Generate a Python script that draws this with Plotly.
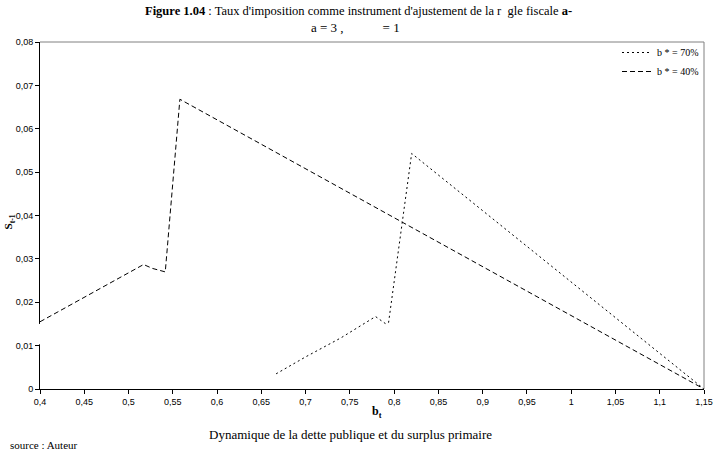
import plotly.graph_objects as go

# Series b* = 70% (dotted)
x70 = [0.6667, 0.70, 0.74, 0.779, 0.790, 0.7937, 0.8198, 1.15]
y70 = [0.0035, 0.0074, 0.0118, 0.0167, 0.0151, 0.0153, 0.0543, 0.0]

# Series b* = 40% (dashed)
x40 = [0.40, 0.517, 0.527, 0.5415, 0.558, 1.15]
y40 = [0.0155, 0.0287, 0.0278, 0.0270, 0.0668, 0.0]

xticks = [0.4, 0.45, 0.5, 0.55, 0.6, 0.65, 0.7, 0.75, 0.8, 0.85, 0.9, 0.95, 1.0, 1.05, 1.1, 1.15]
xticklabels = ["0,4", "0,45", "0,5", "0,55", "0,6", "0,65", "0,7", "0,75", "0,8", "0,85",
               "0,9", "0,95", "1", "1,05", "1,1", "1,15"]
yticks = [0, 0.01, 0.02, 0.03, 0.04, 0.05, 0.06, 0.07, 0.08]
yticklabels = ["0", "0,01", "0,02", "0,03", "0,04", "0,05", "0,06", "0,07", "0,08"]

serif = "Liberation Serif, Times New Roman, serif"
sans = "Liberation Sans, Arial, sans-serif"

fig = go.Figure()
fig.add_trace(go.Scatter(x=x70, y=y70, mode="lines", name="b * = 70%",
                         line=dict(color="black", width=1, dash="2px,3px")))
fig.add_trace(go.Scatter(x=x40, y=y40, mode="lines", name="b * = 40%",
                         line=dict(color="black", width=1, dash="5px,3px")))

W, H = 723, 452
L, R, T, B = 40, 10, 42, 63
fig.update_layout(
    width=W, height=H,
    margin=dict(l=L, r=R, t=T, b=B),
    paper_bgcolor="white", plot_bgcolor="white",
    showlegend=True,
    legend=dict(x=1, y=1 + 4 / (H - T - B), xanchor="right", yanchor="top",
                font=dict(family=serif, size=10, color="black"),
                bgcolor="rgba(0,0,0,0)", itemwidth=30, tracegroupgap=0),
    xaxis=dict(range=[0.4, 1.15], tickvals=xticks, ticktext=xticklabels,
               showgrid=False, zeroline=False, showline=True, linecolor="black", linewidth=1,
               ticks="outside", ticklen=4, tickcolor="black",
               tickfont=dict(family=sans, size=9, color="black")),
    yaxis=dict(range=[0, 0.08], tickvals=yticks, ticktext=yticklabels,
               showgrid=False, zeroline=False, showline=True, linecolor="black", linewidth=1,
               ticks="outside", ticklen=4, tickcolor="black",
               tickfont=dict(family=sans, size=9, color="black")),
)

# grey frame top and right
fig.add_shape(type="line", xref="paper", yref="paper", x0=0, x1=1, y0=1, y1=1,
              line=dict(color="#808080", width=1))
fig.add_shape(type="line", xref="paper", yref="paper", x0=1, x1=1, y0=0, y1=1,
              line=dict(color="#808080", width=1))
# gap in left axis line
fig.add_shape(type="line", xref="paper", yref="y", x0=0, x1=0, y0=0.0103, y1=0.0150,
              line=dict(color="white", width=3), layer="above")

pw, ph = W - L - R, H - T - B
def px(xp):
    return (xp - L) / pw
def py(yp):
    return (H - B - yp) / ph

nb = "&nbsp;"
texts = [
    ("<b>Figure 1.04</b> : Taux d'imposition comme instrument d'ajustement de la r" + nb * 2
     + "gle fiscale <b>a-</b>", 363, 11, "center", 12.5, 0),
    ("a = 3 ," + nb * 12 + "= 1", 360, 28, "center", 13, 0),
    ("<b>b<sub>t</sub></b>", 382, 412, "center", 12, 0),
    ("<b>S<sub>t-1</sub></b>", 9, 222, "center", 11, -90),
    ("Dynamique de la dette publique et du surplus primaire", 355, 434, "center", 13, 0),
    ("source : Auteur", 8, 445, "left", 11, 0),
]
for txt, xp, yp, al, sz, ang in texts:
    fig.add_annotation(text=txt, x=px(xp), y=py(yp), xref="paper", yref="paper",
                       xanchor=al, yanchor="middle", showarrow=False, textangle=ang,
                       font=dict(family=serif, size=sz, color="black"))

fig.write_html("out.html", config={"displayModeBar": False},
               post_script="document.body.style.margin='0';")
